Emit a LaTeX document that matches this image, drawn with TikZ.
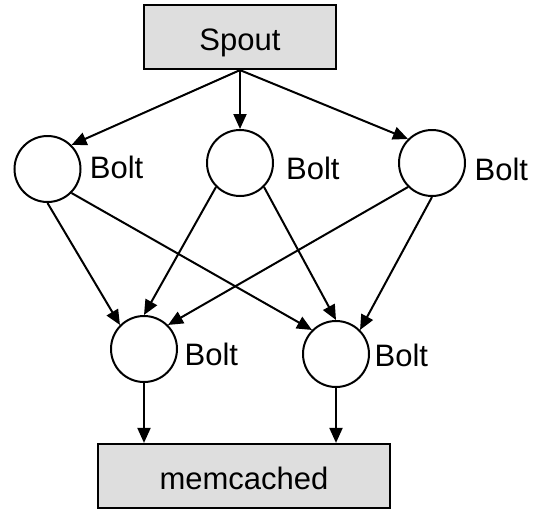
\documentclass[tikz,border=0pt]{standalone}
\usepackage{fontspec}
\setmainfont{Liberation Sans}
\usetikzlibrary{arrows.meta}
\definecolor{boxgray}{RGB}{222,222,222}
\begin{document}
\begin{tikzpicture}[x=1pt,y=-1pt,
  every node/.style={font=\fontsize{31}{37}\selectfont},
  procbox/.style={draw, line width=2.2pt, fill=boxgray, rectangle, inner sep=0pt,
    text height=26pt, text depth=0pt},
  boltnode/.style={draw, line width=2pt, circle, inner sep=0pt, minimum size=66pt},
  boltlabel/.style={anchor=base west, inner sep=0pt},
  flow/.style={line width=2pt, -{Triangle[length=15pt,width=13pt]}}]
  \useasboundingbox (0,0) rectangle (538,509);

  % source and sink
  \node[procbox, minimum width=192pt, minimum height=64pt] (spout) at (240,37) {Spout};
  \node[procbox, minimum width=292pt, minimum height=64pt] (mem) at (244,476) {memcached};

  % first stage of bolts
  \node[boltnode] (t1) at (47.5,169) {};
  \node[boltnode] (t2) at (240,163) {};
  \node[boltnode] (t3) at (432,163) {};
  \node[boltlabel] (lt1) at (89.7,178) {Bolt};
  \node[boltlabel] (lt2) at (286,179.5) {Bolt};
  \node[boltlabel] (lt3) at (474.4,180) {Bolt};

  % second stage of bolts
  \node[boltnode] (b1) at (144,349) {};
  \node[boltnode] (b2) at (336,354) {};
  \node[boltlabel] (lb1) at (184.4,365) {Bolt};
  \node[boltlabel] (lb2) at (374.4,366) {Bolt};

  % spout to first stage
  \draw[flow] (spout.south) -- (t1.45);
  \draw[flow] (spout.south) -- (t2.north);
  \draw[flow] (spout.south) -- (t3.135);

  % first stage to second stage
  \draw[flow] (t1.270) -- (b1.135);
  \draw[flow] (t2.225) -- (b1.90);
  \draw[flow] (t3.225) -- (b1.45);
  \draw[flow] (t1.-45) -- (b2.135);
  \draw[flow] (t2.-45) -- (b2.90);
  \draw[flow] (t3.270) -- (b2.45);

  % second stage to memcached
  \draw[flow] (b1.south) -- (b1.south |- mem.north);
  \draw[flow] (b2.south) -- (b2.south |- mem.north);
\end{tikzpicture}
\end{document}
